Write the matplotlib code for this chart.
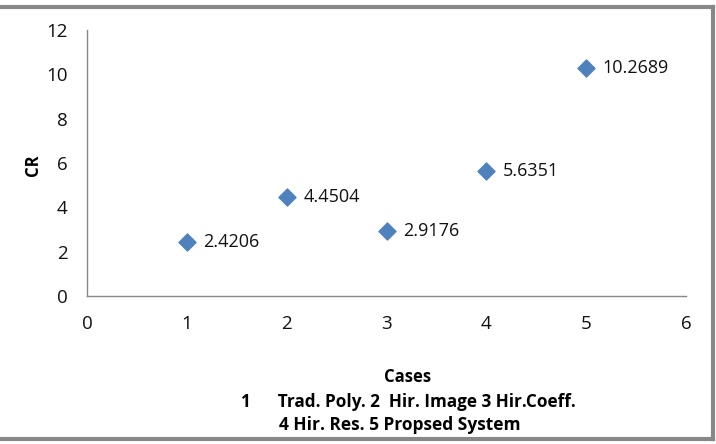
import matplotlib.pyplot as plt
from matplotlib.lines import Line2D

# data
cases = [1, 2, 3, 4, 5]
cr = [2.4206, 4.4504, 2.9176, 5.6351, 10.2689]
x_ticks = [0, 1, 2, 3, 4, 5, 6]
y_ticks = [0, 2, 4, 6, 8, 10, 12]
caption1 = "1      Trad. Poly. 2  Hir. Image 3 Hir.Coeff."
caption2 = "4 Hir. Res. 5 Propsed System"

plt.rcParams['font.family'] = ['Open Sans', 'DejaVu Sans']

fig = plt.figure(figsize=(7.16, 4.44), dpi=100)
W, H = 716, 444
ax = fig.add_axes([87 / W, 1 - 296 / H, (686 - 87) / W, (296 - 30) / H])

ax.scatter(cases, cr, marker='D', s=75, color='#4F81BD', zorder=3)
for x, y in zip(cases, cr):
    ax.annotate(f"{y:.4f}", (x, y), xytext=(12, 0), textcoords='offset points',
                va='center', ha='left', fontsize=13, color='#111111')

ax.set_xlim(0, 6)
ax.set_ylim(0, 12)
ax.set_xticks(x_ticks)
ax.set_yticks(y_ticks)
ax.tick_params(length=0, labelsize=13.5, colors='#111111', pad=14)
ax.tick_params(axis='x', pad=14)
for side in ['top', 'right']:
    ax.spines[side].set_visible(False)
for side in ['left', 'bottom']:
    ax.spines[side].set_color('#888888')
    ax.spines[side].set_linewidth(1)

fig.text(408 / W, 1 - 377 / H, "Cases", ha='center', va='center', fontsize=12, fontweight='bold')
fig.text(241 / W, 1 - 402 / H, caption1, ha='left', va='center', fontsize=12.3, fontweight='bold')
fig.text(400 / W, 1 - 425 / H, caption2, ha='center', va='center', fontsize=12.5, fontweight='bold')
fig.text(33 / W, 1 - 165 / H, "CR", ha='center', va='center', rotation=90, fontsize=12, fontweight='bold')

# outer frame (top, right, bottom)
frame = dict(color='#888888', linewidth=3, transform=fig.transFigure)
fig.add_artist(Line2D([0, 713 / W], [1 - 7 / H, 1 - 7 / H], **frame))
fig.add_artist(Line2D([713 / W, 713 / W], [1 - 7 / H, 1 - 439 / H], **frame))
fig.add_artist(Line2D([0, 713 / W], [1 - 439 / H, 1 - 439 / H], **frame))

fig.savefig("out.png", dpi=100)
